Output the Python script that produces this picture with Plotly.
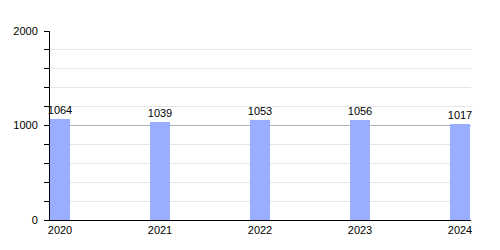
import plotly.graph_objects as go

years = ["2020", "2021", "2022", "2023", "2024"]
values = [1064, 1039, 1053, 1056, 1017]
labels = [str(v) for v in values]

fig = go.Figure()
fig.add_trace(go.Bar(
    x=years, y=values, text=labels, textposition="outside",
    width=0.2, marker=dict(color="#9AAEFF", line=dict(width=0)),
    textfont=dict(color="black", size=11, family="Liberation Sans, Arial"),
    constraintext="none", cliponaxis=False,
))
fig.update_layout(
    width=500, height=250,
    margin=dict(l=50, r=29, t=31, b=30),
    paper_bgcolor="white", plot_bgcolor="white",
    showlegend=False,
    font=dict(family="Liberation Sans, Arial", size=11, color="black"),
    bargap=0,
)
fig.update_xaxes(
    type="category", range=[-0.1, 4.11],
    showline=True, linecolor="black", linewidth=1,
    showgrid=False, ticks="", tickfont=dict(size=11),
)
fig.update_yaxes(
    range=[0, 2000], tickvals=[0, 1000, 2000], ticktext=["0", "1000", "2000"],
    showline=True, linecolor="black", linewidth=1,
    showgrid=True, gridcolor="#b0b0b0", gridwidth=1,
    ticks="outside", ticklen=5, tickcolor="black",
    tickfont=dict(size=11), zeroline=False, ticklabelstandoff=4,
    minor=dict(dtick=200, showgrid=True, gridcolor="#e6e6e6",
               ticks="outside", ticklen=5, tickcolor="black"),
)
fig.write_html("out.html")
